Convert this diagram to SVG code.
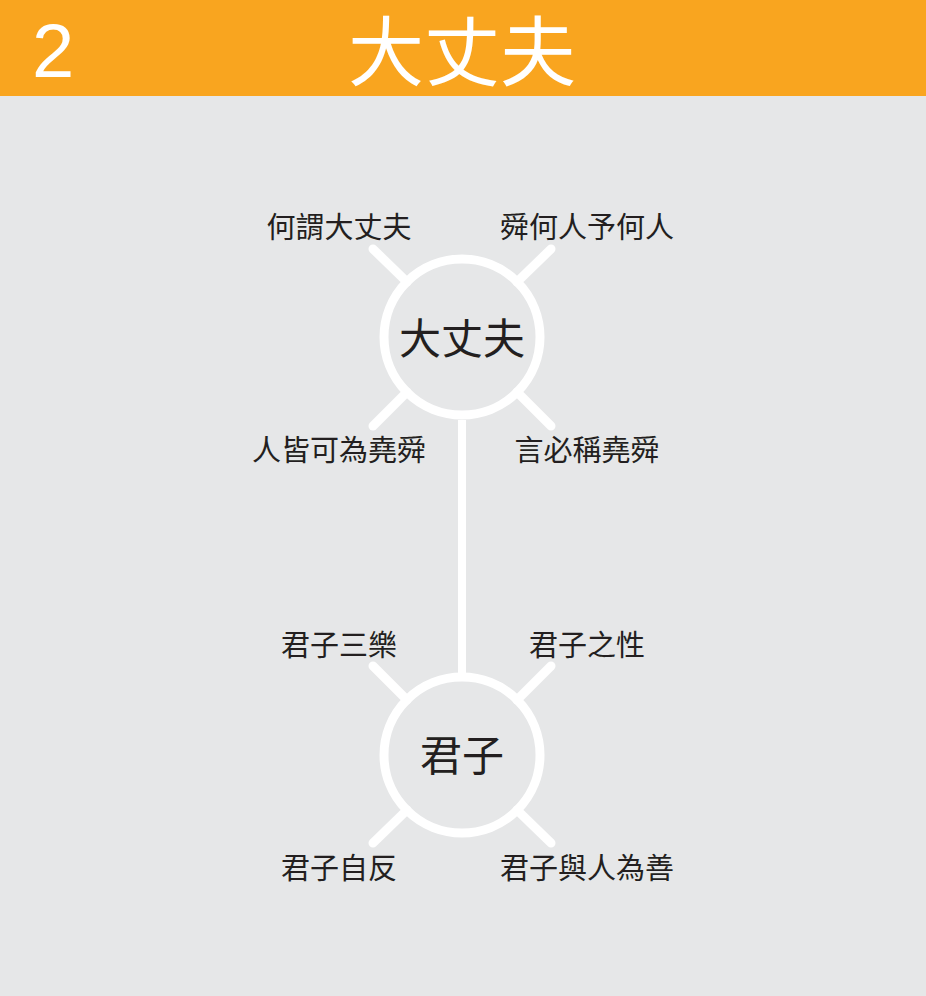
<svg xmlns="http://www.w3.org/2000/svg" width="926" height="996" viewBox="0 0 926 996">
<style>
.lbl{font-family:"Noto Sans CJK TC","Noto Sans CJK SC",sans-serif;font-size:29px;fill:#231F20;text-anchor:middle}
.ctr{font-family:"Noto Sans CJK TC","Noto Sans CJK SC",sans-serif;font-size:42px;fill:#231F20;text-anchor:middle}
.ring{fill:none;stroke:#FFFFFF;stroke-width:9}
.spoke{stroke:#FFFFFF;stroke-width:9;stroke-linecap:round}
</style>
<rect x="0" y="0" width="926" height="996" fill="#E6E7E8"/>
<g id="header">
<rect x="0" y="0" width="926" height="96" fill="#F9A51F"/>
<text x="32" y="77" font-family="Liberation Sans, Arial, sans-serif" font-size="76" fill="#FFFFFF">2</text>
<text x="462" y="80" font-family="Noto Sans CJK TC, Noto Sans CJK SC, sans-serif" font-size="76" fill="#FFFFFF" text-anchor="middle">大丈夫</text>
</g>
<g id="connectors">
<line class="spoke" x1="462" y1="420" x2="462" y2="673" style="stroke-width:8;stroke-linecap:butt"/>
</g>
<g id="node-dazhangfu">
<line class="spoke" x1="407" y1="282" x2="373" y2="249"/>
<line class="spoke" x1="517" y1="282" x2="551" y2="249"/>
<line class="spoke" x1="407" y1="392" x2="373" y2="426"/>
<line class="spoke" x1="517" y1="392" x2="551" y2="426"/>
<circle class="ring" cx="462" cy="337" r="78"/>
<text class="ctr" x="462" y="354">大丈夫</text>
<text class="lbl" x="339" y="238">何謂大丈夫</text>
<text class="lbl" x="587" y="238">舜何人予何人</text>
<text class="lbl" x="339" y="461">人皆可為堯舜</text>
<text class="lbl" x="587" y="461">言必稱堯舜</text>
</g>
<g id="node-junzi">
<line class="spoke" x1="407" y1="700" x2="373" y2="666"/>
<line class="spoke" x1="517" y1="700" x2="551" y2="666"/>
<line class="spoke" x1="407" y1="810" x2="373" y2="843"/>
<line class="spoke" x1="517" y1="810" x2="551" y2="843"/>
<circle class="ring" cx="462" cy="755" r="78"/>
<text class="ctr" x="462" y="771">君子</text>
<text class="lbl" x="339" y="656">君子三樂</text>
<text class="lbl" x="587" y="656">君子之性</text>
<text class="lbl" x="339" y="879">君子自反</text>
<text class="lbl" x="587" y="879">君子與人為善</text>
</g>
</svg>
